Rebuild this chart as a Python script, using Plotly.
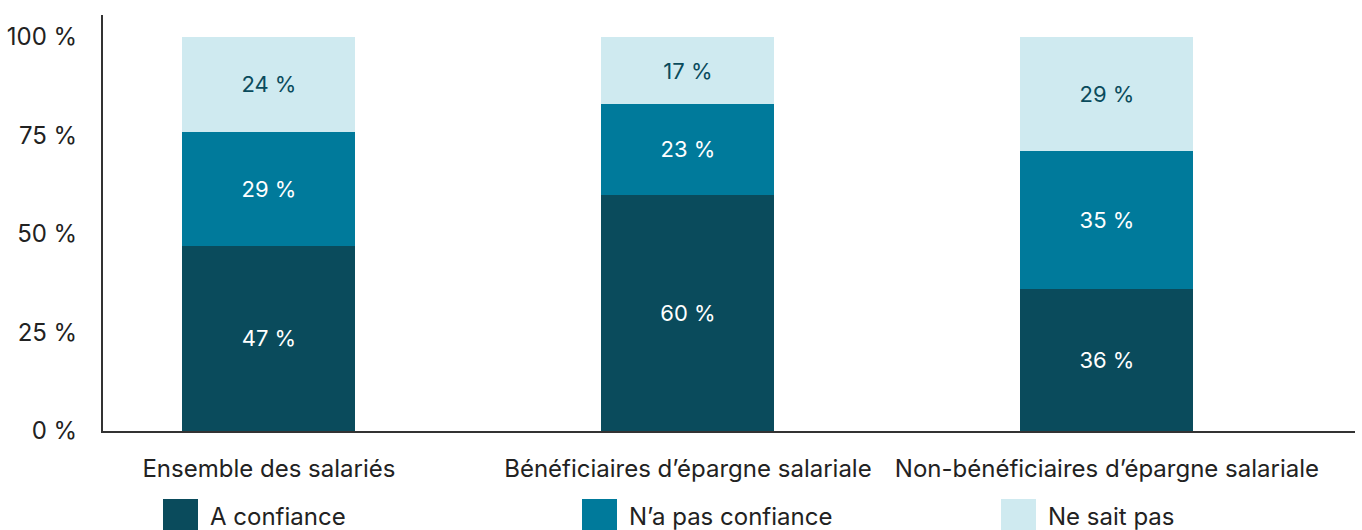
import plotly.graph_objects as go

categories = ["Ensemble des salariés", "Bénéficiaires d’épargne salariale",
              "Non-bénéficiaires d’épargne salariale"]
series_names = ["A confiance", "N’a pas confiance", "Ne sait pas"]
a_confiance = [47, 60, 36]
pas_confiance = [29, 23, 35]
ne_sait_pas = [24, 17, 29]
y_ticks = [0, 25, 50, 75, 100]
y_tick_labels = ["0 %", "25 %", "50 %", "75 %", "100 %"]

colors = ["#0a4b5c", "#007a9b", "#cfeaf0"]
text_colors = ["white", "white", "#0a4b5c"]
FONT = "Inter, Roboto, sans-serif"

fig = go.Figure()
for name, vals, col, tcol in zip(series_names, [a_confiance, pas_confiance, ne_sait_pas],
                                 colors, text_colors):
    fig.add_trace(go.Bar(
        x=list(range(len(categories))),
        y=vals,
        name=name,
        width=0.413,
        marker=dict(color=col, line=dict(width=0)),
        text=[f"{v} %" for v in vals],
        textposition="inside",
        insidetextanchor="middle",
        textangle=0,
        textfont=dict(color=tcol, size=22, family=FONT),
        showlegend=False,
        hovertemplate="%{y} %<extra>" + name + "</extra>",
    ))

# custom legend with large square swatches
for i, (name, col) in enumerate(zip(series_names, colors)):
    x0 = (163 + 419 * i - 103) / 1252
    fig.add_shape(type="rect", xref="paper", yref="paper",
                  x0=x0, x1=x0 + 35 / 1252, y0=-(534 - 431) / 416, y1=-(499 - 431) / 416,
                  fillcolor=col, line=dict(width=0), layer="above")
    fig.add_annotation(xref="paper", yref="paper", x=(208 + 419 * i - 103) / 1252,
                       y=-(516 - 431) / 416, text=name, showarrow=False,
                       xanchor="left", yanchor="middle",
                       font=dict(size=24, color="#222222", family=FONT))

fig.update_layout(
    barmode="stack",
    width=1362,
    height=530,
    margin=dict(l=103, r=7, t=15, b=99),
    plot_bgcolor="white",
    paper_bgcolor="white",
    font=dict(family=FONT, size=24, color="#222222"),
    uniformtext=dict(minsize=10, mode="show"),
)
fig.update_xaxes(
    range=[-0.396, 2.592],
    tickmode="array",
    tickvals=list(range(len(categories))),
    ticktext=categories,
    showline=True, linecolor="#333333", linewidth=2,
    showgrid=False, ticks="", ticklabelstandoff=15,
    tickfont=dict(size=24, color="#222222"),
)
fig.update_yaxes(
    range=[0, 105.6],
    tickmode="array",
    tickvals=y_ticks,
    ticktext=y_tick_labels,
    showline=True, linecolor="#333333", linewidth=2,
    showgrid=False, zeroline=False, ticks="", ticklabelstandoff=19,
    tickfont=dict(size=24, color="#222222"),
)

# remove the default page margin so the figure fills the window
fig.write_html("out.html", config={"displayModeBar": False},
               post_script="document.body.style.margin='0';")
